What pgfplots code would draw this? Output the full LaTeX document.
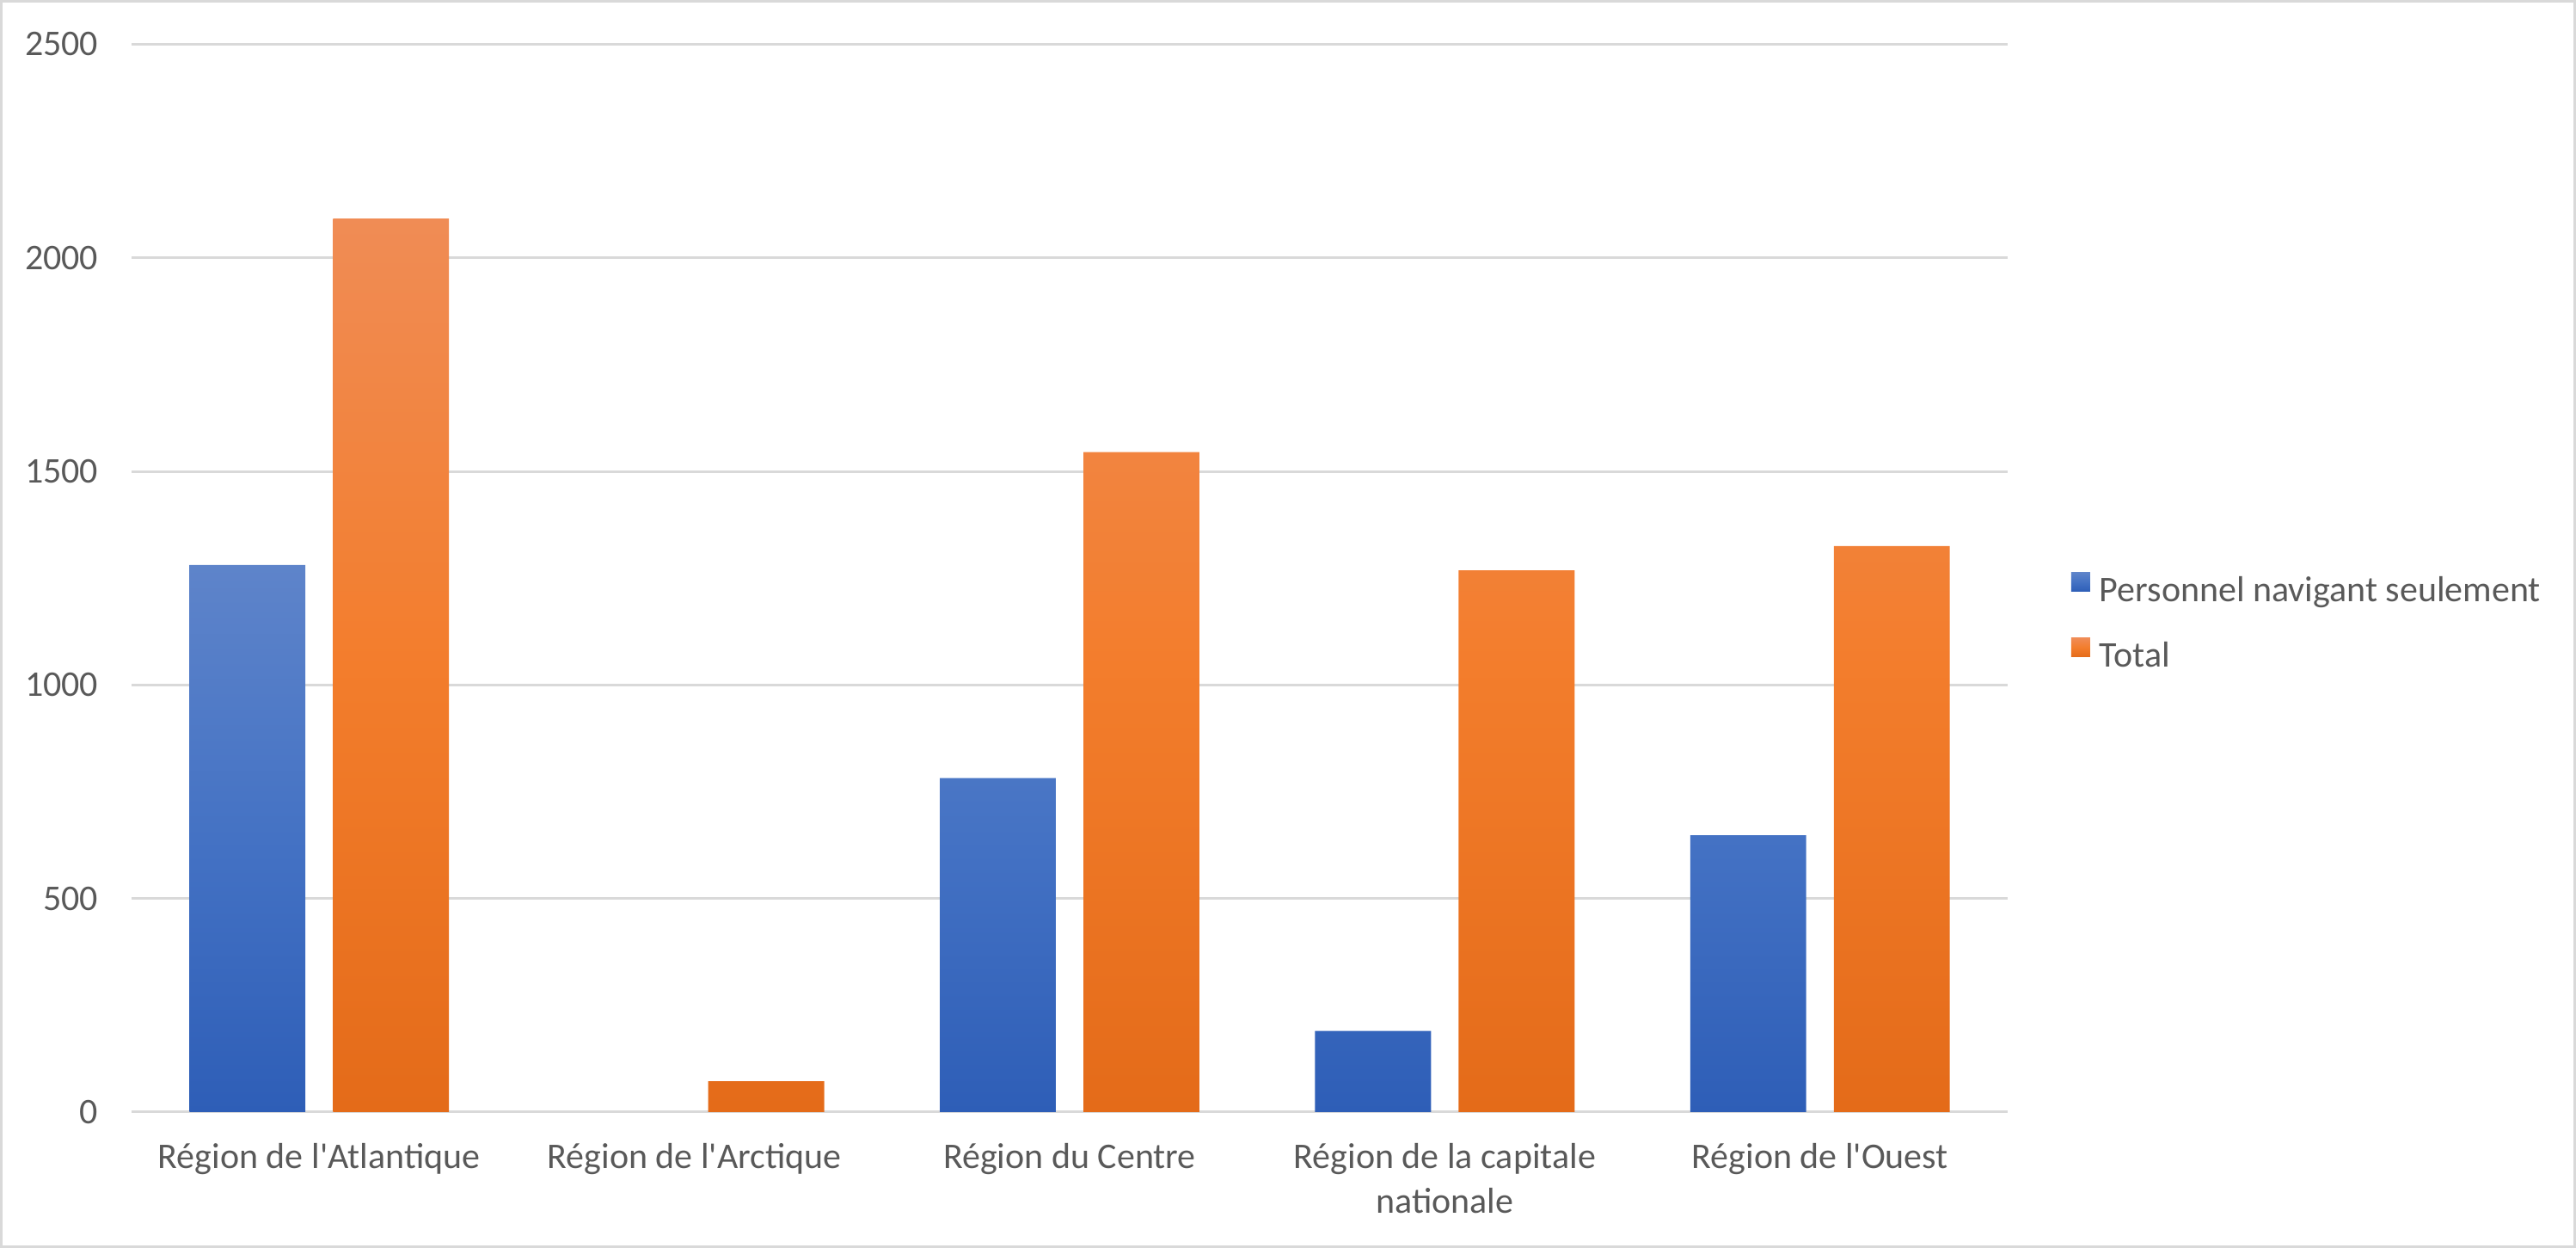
\documentclass[border=0pt]{standalone}
\usepackage{fontspec}
\setmainfont{Carlito}
\usepackage{pgfplots}
\pgfplotsset{compat=1.18}

\definecolor{txt}{HTML}{595959}
\definecolor{gridc}{HTML}{D9D9D9}
\definecolor{blueT}{HTML}{5E84CA}
\definecolor{blueM}{HTML}{4472C4}
\definecolor{blueB}{HTML}{2E5EB7}
\definecolor{oranT}{HTML}{F08C55}
\definecolor{oranM}{HTML}{F37D2C}
\definecolor{oranB}{HTML}{E46B19}

\begin{document}
\begin{tikzpicture}[x=1pt,y=1pt]
\path[use as bounding box] (0,0) rectangle (749,362.75);
\draw[gridc, line width=0.8pt] (0.4,0.4) rectangle (748.6,362.35);
\begin{axis}[
  at={(38.25pt,39.5pt)}, anchor=south west,
  scale only axis, width=545.5pt, height=310.4pt,
  xmin=-0.5, xmax=4.5, ymin=0, ymax=2500,
  axis line style={draw=none},
  tick style={draw=none},
  major tick length=0pt,
  ytick={0,500,1000,1500,2000,2500},
  ymajorgrids,
  grid style={gridc, line width=0.75pt},
  xtick={0,1,2,3,4},
  xticklabels={R\'egion de l\textquotesingle Atlantique, R\'egion de l\textquotesingle Arctique, R\'egion du Centre, R\'egion de la capitale\\nationale, R\'egion de l\textquotesingle Ouest},
  xticklabel style={align=center, anchor=north, inner sep=0pt, yshift=-9pt,
    font=\fontsize{10.5}{12.9}\selectfont, text=txt},
  yticklabel style={anchor=east, inner sep=0pt, xshift=-9.5pt,
    font=\fontsize{10.5}{12}\selectfont, text=txt},
  /pgf/number format/1000 sep={},
  /pgf/number format/assume math mode=true,
  legend style={at={(1.0335,0.4577)}, anchor=west, draw=none, fill=none,
    inner sep=0pt, row sep=8.6pt, font=\fontsize{10.5}{12}\selectfont, text=txt,
    nodes={text height=7pt, text depth=2pt, inner sep=0pt}},
  legend cell align=left,
  /tikz/every odd column/.style={column sep=2.75pt},
  legend image code/.code={\path[#1] (0pt,0.45pt) rectangle (5.5pt,5.95pt);},
]
\draw[gridc, line width=1.2pt] (axis cs:-0.5,0) -- (axis cs:4.5,0);

% Arctique has no bar for this series
\addplot[ybar, bar width=0.309, bar shift=-0.1913, draw=none,
  top color=blueT, bottom color=blueB, middle color=blueM]
  coordinates {(0,1281) (2,782) (3,190) (4,648)};
\addlegendentry{Personnel navigant seulement}

\addplot[ybar, bar width=0.309, bar shift=0.1913, draw=none,
  top color=oranT, bottom color=oranB, middle color=oranM]
  coordinates {(0,2092) (1,72) (2,1545) (3,1268) (4,1325)};
\addlegendentry{Total}
\end{axis}
\end{tikzpicture}
\end{document}
